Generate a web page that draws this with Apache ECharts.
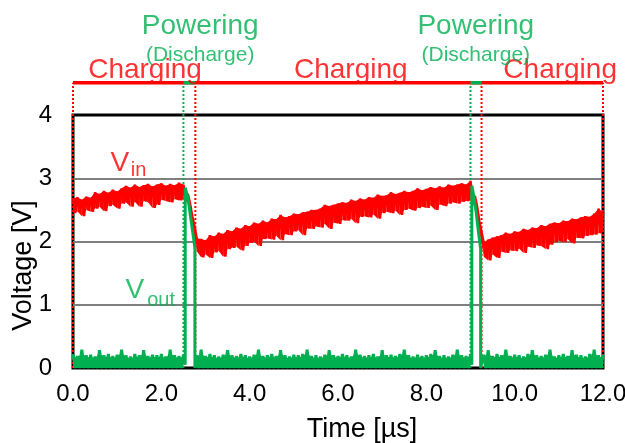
<!DOCTYPE html>
<html>
<head>
<meta charset="utf-8">
<script src="https://cdn.jsdelivr.net/npm/echarts@6/dist/echarts.min.js"></script>
<style>
  html, body { margin: 0; padding: 0; background: #fff; }
  #chart { width: 625px; height: 443px; }
</style>
</head>
<body>
<div id="chart"></div>
<script>
const RED = '#ff0000';
const GREEN = '#00b050';
const FONT = '"Liberation Sans", Arial, sans-serif';

// samples every 0.1 us, upper / lower edge of the noisy band
const STEP = 0.1;
const vinTop = [
  2.68, 2.70, 2.66, 2.71, 2.69, 2.78, 2.75, 2.80, 2.77, 2.82,
  2.79, 2.84, 2.88, 2.85, 2.90, 2.86, 2.89, 2.91, 2.87, 2.90,
  2.92, 2.88, 2.91, 2.89, 2.93, 2.90, 2.75, 2.40, 2.05, 2.04,
  2.02, 2.10, 2.08, 2.14, 2.12, 2.18, 2.16, 2.22, 2.20, 2.26,
  2.24, 2.30, 2.28, 2.33, 2.30, 2.36, 2.35, 2.42, 2.38, 2.40,
  2.44, 2.43, 2.46, 2.47, 2.50, 2.50, 2.52, 2.58, 2.56, 2.58,
  2.60, 2.62, 2.61, 2.66, 2.64, 2.68, 2.66, 2.70, 2.69, 2.74,
  2.72, 2.73, 2.78, 2.75, 2.77, 2.80, 2.78, 2.80, 2.84, 2.81,
  2.83, 2.86, 2.84, 2.87, 2.85, 2.90, 2.88, 2.90, 2.92, 2.90,
  2.96, 2.72, 2.32, 1.98, 2.03, 2.06, 2.08, 2.10, 2.14, 2.12,
  2.16, 2.15, 2.20, 2.18, 2.22, 2.21, 2.26, 2.24, 2.28, 2.30,
  2.29, 2.33, 2.32, 2.36, 2.35, 2.38, 2.40, 2.39, 2.44, 2.52,
  2.46
];
const vinBot = [
  2.45, 2.48, 2.40, 2.50, 2.47, 2.52, 2.55, 2.48, 2.56, 2.58,
  2.52, 2.60, 2.62, 2.55, 2.63, 2.55, 2.64, 2.62, 2.53, 2.58,
  2.66, 2.64, 2.62, 2.67, 2.65, 2.68, 2.60, 2.25, 1.85, 1.75,
  1.80, 1.74, 1.83, 1.85, 1.76, 1.88, 1.90, 1.92, 1.86, 1.93,
  1.98, 2.00, 1.93, 2.04, 2.05, 2.03, 2.09, 2.02, 2.12, 2.10,
  2.16, 2.18, 2.10, 2.21, 2.20, 2.24, 2.22, 2.28, 2.20, 2.30,
  2.28, 2.34, 2.33, 2.36, 2.29, 2.39, 2.40, 2.38, 2.43, 2.36,
  2.45, 2.47, 2.45, 2.49, 2.42, 2.50, 2.52, 2.49, 2.53, 2.55,
  2.53, 2.57, 2.50, 2.59, 2.56, 2.60, 2.62, 2.60, 2.63, 2.64,
  2.65, 2.55, 2.15, 1.76, 1.70, 1.80, 1.74, 1.84, 1.82, 1.86,
  1.85, 1.89, 1.82, 1.92, 1.90, 1.94, 1.93, 1.88, 1.95, 1.99,
  2.01, 1.99, 2.04, 1.97, 2.06, 2.05, 2.09, 2.10, 2.11, 2.13,
  2.15
];
const voutTop = [
  0.22, 0.19, 0.29, 0.20, 0.21, 0.18, 0.28, 0.20, 0.22, 0.19,
  0.21, 0.29, 0.20, 0.18, 0.22, 0.20, 0.28, 0.19, 0.21, 0.20,
  0.22, 0.18, 0.29, 0.20, 0.19, 0.21, 0.20, 0.18, 0.20, 0.29,
  0.19, 0.22, 0.20, 0.18, 0.21, 0.28, 0.20, 0.19, 0.22, 0.20,
  0.18, 0.21, 0.29, 0.19, 0.20, 0.22, 0.19, 0.28, 0.20, 0.18,
  0.21, 0.20, 0.22, 0.29, 0.19, 0.20, 0.18, 0.21, 0.28, 0.20,
  0.19, 0.22, 0.20, 0.18, 0.29, 0.21, 0.19, 0.20, 0.22, 0.18,
  0.28, 0.20, 0.21, 0.19, 0.22, 0.29, 0.20, 0.18, 0.21, 0.19,
  0.20, 0.22, 0.28, 0.19, 0.20, 0.18, 0.21, 0.29, 0.20, 0.19,
  0.22, 0.20, 0.18, 0.21, 0.28, 0.19, 0.22, 0.20, 0.29, 0.19,
  0.21, 0.20, 0.18, 0.22, 0.28, 0.20, 0.19, 0.21, 0.29, 0.18,
  0.20, 0.22, 0.19, 0.28, 0.21, 0.20, 0.18, 0.22, 0.29, 0.20,
  0.21
];
const VOUT_FLOOR = 0.0;

// discharge pulses on Vout
const pulse1T = [2.54, 2.54, 2.60, 2.65, 2.70, 2.76, 2.76];
const pulse1V = [0.05, 2.85, 2.70, 2.45, 2.20, 1.90, 0.00];
const pulse2T = [9.03, 9.03, 9.08, 9.13, 9.18, 9.23, 9.23];
const pulse2V = [0.05, 2.88, 2.70, 2.45, 2.15, 1.88, 0.00];
const PULSES = [[pulse1T, pulse1V], [pulse2T, pulse2V]];

// phase markers above the plot
const ANNOT_Y = 4.51;
const redDotT = [0, 2.77, 9.25, 12];
const greenDotT = [2.5, 9.0];
const greenBarT = [[2.5, 2.77], [9.0, 9.25]];

const chargingT = [1.63, 6.29, 11.03];
const poweringT = [2.88, 9.12];

const xTickLabels = ['0.0', '2.0', '4.0', '6.0', '8.0', '10.0', '12.0'];

function inPulse(t) {
  return PULSES.some(([ts]) => t >= ts[0] - 0.001 && t <= ts[ts.length - 1] + 0.001);
}

function zigzag(top, bot, floor) {
  const pts = [];
  top.forEach((v, i) => {
    const t = i * STEP;
    pts.push([t, v]);
    if (i < top.length - 1) pts.push([t + STEP / 2, bot ? bot[i] : floor]);
  });
  return pts;
}

function buildVout() {
  const pts = zigzag(voutTop, null, VOUT_FLOOR).filter(p => !inPulse(p[0]));
  PULSES.forEach(([ts, vs]) => ts.forEach((t, i) => pts.push([t, vs[i]])));
  return pts.sort((a, b) => a[0] - b[0]);
}

// filled piece of the Vin band between sample i and i+1
function renderVinBand(params, api) {
  const i = params.dataIndex;
  if (i >= vinTop.length - 1) return null;
  const t0 = i * STEP, t1 = (i + 1) * STEP;
  const pts = [
    api.coord([t0, vinBot[i]]), api.coord([t0, vinTop[i]]),
    api.coord([t1, vinTop[i + 1]]), api.coord([t1, vinBot[i + 1]])
  ];
  return { type: 'polygon', shape: { points: pts }, style: { fill: RED }, silent: true };
}

function vline(t, color) {
  return {
    type: 'line', silent: true, clip: false, symbol: 'none', z: 1,
    data: [[t, 0], [t, ANNOT_Y]],
    lineStyle: { color: color, width: 2, type: [2, 2] }
  };
}

function hline(t0, t1, color) {
  return {
    type: 'line', silent: true, clip: false, symbol: 'none', z: 3,
    data: [[t0, ANNOT_Y], [t1, ANNOT_Y]],
    lineStyle: { color: color, width: 3.5 }
  };
}

function textItem(t, v, text, color, size, align) {
  return {
    value: [t, v],
    label: { formatter: text, color: color, fontSize: size, align: align || 'center' }
  };
}

const labelData = [];
chargingT.forEach(t => labelData.push(textItem(t, 4.71, 'Charging', RED, 28)));
poweringT.forEach(t => {
  labelData.push(textItem(t, 5.41, 'Powering', GREEN, 28));
  labelData.push(textItem(t, 4.94, '(Discharge)', GREEN, 21));
});
labelData.push(textItem(1.06, 3.24, 'V', RED, 28));
labelData.push(textItem(1.31, 3.12, 'in', RED, 20, 'left'));
labelData.push(textItem(1.40, 1.23, 'V', GREEN, 28));
labelData.push(textItem(1.68, 1.07, 'out', GREEN, 20, 'left'));

const series = [];
redDotT.forEach(t => series.push(vline(t, RED)));
greenDotT.forEach(t => series.push(vline(t, GREEN)));
series.push(hline(0, 12, RED));
greenBarT.forEach(([a, b]) => series.push(hline(a, b, GREEN)));

// Vin: solid band between the edges, plus a zigzag for the ragged look
series.push({
  type: 'custom', silent: true, clip: false, z: 4,
  renderItem: renderVinBand,
  data: vinTop.map((v, i) => [i * STEP, vinBot[i], v])
});
series.push({
  name: 'Vin', type: 'line', clip: false, showSymbol: false, z: 4,
  data: zigzag(vinTop, vinBot),
  lineStyle: { color: RED, width: 2.5 }
});

// Vout: filled baseline band (broken at the pulses) and the trace itself
series.push({
  type: 'line', silent: true, clip: false, symbol: 'none', z: 5,
  data: voutTop.map((v, i) => [i * STEP, inPulse(i * STEP) ? '-' : v * 0.85]),
  lineStyle: { width: 0, opacity: 0 },
  areaStyle: { color: GREEN, opacity: 1 }
});
series.push({
  name: 'Vout', type: 'line', clip: false, showSymbol: false, z: 5,
  data: buildVout(),
  lineStyle: { color: GREEN, width: 3 }
});
series.push({
  type: 'scatter', silent: true, clip: false, z: 6,
  symbolSize: 1,
  itemStyle: { color: 'transparent' },
  label: { show: true, position: 'inside', verticalAlign: 'middle', fontFamily: FONT },
  data: labelData
});

const chart = echarts.init(document.getElementById('chart'));
chart.setOption({
  animation: false,
  textStyle: { fontFamily: FONT },
  grid: {
    left: 73, right: 22, top: 115, bottom: 75,
    outerBoundsMode: 'none', containLabel: false,
    show: true, borderColor: '#000', borderWidth: 3, backgroundColor: 'transparent'
  },
  xAxis: {
    type: 'value', min: 0, max: 12, interval: 2,
    axisLine: { show: false }, axisTick: { show: false }, splitLine: { show: false },
    axisLabel: {
      fontSize: 24, color: '#000', margin: 14,
      formatter: v => xTickLabels[Math.round(v / 2)]
    },
    name: 'Time [µs]', nameLocation: 'middle', nameGap: 48, nameMoveOverlap: false,
    nameTextStyle: { fontSize: 27, color: '#000', padding: [0, 0, 0, 48] }
  },
  yAxis: {
    type: 'value', min: 0, max: 4, interval: 1,
    axisLine: { show: false }, axisTick: { show: false },
    splitLine: { showMinLine: false, showMaxLine: false, lineStyle: { color: '#7f7f7f', width: 2 } },
    axisLabel: { fontSize: 24, color: '#000', margin: 21 },
    name: 'Voltage [V]', nameLocation: 'middle', nameGap: 36, nameRotate: 90, nameMoveOverlap: false,
    nameTextStyle: { fontSize: 27, color: '#000', padding: [0, 48, 0, 0] }
  },
  series: series
});
</script>
</body>
</html>
